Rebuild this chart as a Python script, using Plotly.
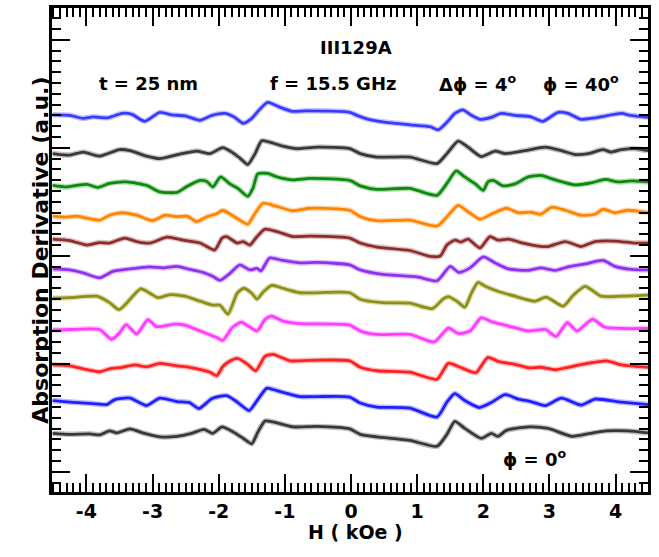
import plotly.graph_objects as go

# Field H (kOe) and absorption derivative (a.u., vertically offset) for each angle phi
h40 = [-4.51,-4.25,-4.05,-3.90,-3.68,-3.46,-3.31,-3.12,-2.89,-2.71,-2.51,-2.28,-2.10,-1.91,-1.77,-1.63,-1.50,-1.38,-1.26,-1.07,-0.89,-0.67,-0.02,0.09,0.24,0.48,0.89,1.20,1.32,1.45,1.57,1.69,1.82,1.95,2.12,2.27,2.48,2.72,2.90,3.13,3.28,3.48,3.69,4.09,4.22,4.49]
s40 = [37.95,37.9,37.6,37.75,37.65,38.1,38.0,37.3,38.2,37.95,37.85,37.4,37.9,38.1,37.75,37.1,37.6,38.5,39.2,38.7,38.3,38.35,38.2,37.9,37.55,37.25,36.95,36.75,36.45,37.2,38.1,38.45,37.9,37.5,37.7,38.1,37.9,37.75,37.3,38.2,38.1,37.5,37.65,38.1,37.9,37.7]

h36 = [-4.51,-4.25,-4.05,-3.80,-3.50,-3.34,-3.09,-2.89,-2.59,-2.33,-2.13,-1.94,-1.80,-1.68,-1.56,-1.45,-1.35,-1.23,-1.03,-0.82,-0.51,-0.02,0.14,0.39,0.89,1.30,1.45,1.62,1.77,1.97,2.18,2.33,2.63,2.94,3.18,3.39,3.59,3.81,3.93,4.09,4.30,4.49]
s36 = [34.05,33.9,34.2,33.8,34.45,34.35,33.8,33.55,34.0,34.3,34.05,34.65,34.2,33.6,32.95,34.05,35.35,35.2,34.8,34.55,34.7,34.55,34.05,33.7,33.7,33.05,34.05,35.3,34.7,33.75,34.3,34.05,34.35,34.7,34.35,33.95,34.05,34.45,34.2,34.45,34.55,34.35]

h32 = [-4.51,-4.30,-4.15,-3.99,-3.83,-3.65,-3.39,-3.09,-2.89,-2.63,-2.48,-2.28,-2.18,-2.09,-1.97,-1.83,-1.71,-1.56,-1.48,-1.41,-1.26,-1.12,-0.88,-0.62,-0.02,0.14,0.39,0.89,1.30,1.45,1.59,1.72,1.88,2.00,2.07,2.15,2.30,2.48,2.68,2.87,3.09,3.39,3.63,3.84,4.04,4.24,4.49]
s32 = [30.85,30.7,30.85,30.95,30.65,31.05,31.2,30.85,30.2,30.15,30.75,31.35,31.25,30.7,31.7,31.0,30.55,29.75,30.6,32.0,32.05,31.7,31.4,31.55,31.35,30.8,30.45,30.55,29.85,31.05,32.3,31.7,31.0,30.35,31.2,31.35,30.8,31.0,31.7,31.85,31.4,30.9,31.1,31.45,31.2,31.3,31.2]

h28 = [-4.51,-4.30,-4.15,-3.99,-3.80,-3.65,-3.45,-3.24,-3.00,-2.81,-2.63,-2.48,-2.33,-2.18,-2.03,-1.94,-1.80,-1.68,-1.56,-1.45,-1.33,-1.18,-0.88,-0.62,-0.02,0.14,0.39,0.89,1.30,1.45,1.62,1.77,1.95,2.12,2.35,2.53,2.72,2.87,3.03,3.24,3.48,3.69,3.81,3.99,4.19,4.49]
s28 = [27.75,27.65,27.75,27.55,27.35,27.85,28.1,27.85,27.3,27.85,27.7,27.75,27.2,27.7,28.0,28.35,27.85,27.35,26.95,28.05,29.05,28.85,28.3,28.55,28.35,27.7,27.3,27.35,26.75,27.7,28.85,28.2,27.45,27.95,28.55,28.1,28.15,27.95,28.65,28.35,27.85,27.95,28.45,28.1,28.35,28.1]

h24 = [-4.51,-4.25,-3.99,-3.80,-3.65,-3.42,-3.24,-3.04,-2.78,-2.54,-2.28,-2.06,-1.95,-1.88,-1.72,-1.63,-1.53,-1.42,-1.30,-1.12,-0.88,-0.62,-0.02,0.14,0.39,0.89,1.20,1.35,1.45,1.57,1.66,1.77,1.95,2.10,2.22,2.38,2.57,2.83,2.98,3.24,3.48,3.69,3.99,4.30,4.49]
s24 = [25.45,25.3,24.85,25.1,25.05,25.55,25.2,25.05,25.65,25.35,25.05,24.35,25.55,25.7,25.05,25.2,24.85,25.7,26.45,26.2,25.7,25.75,25.55,25.05,24.65,24.3,23.7,23.75,24.85,25.35,25.15,25.45,24.55,25.7,25.35,25.45,25.1,24.75,24.7,25.2,24.7,25.2,25.25,25.05,25.05]

h20 = [-4.51,-4.25,-4.05,-3.80,-3.60,-3.34,-3.04,-2.84,-2.63,-2.44,-2.24,-2.09,-1.98,-1.83,-1.68,-1.53,-1.42,-1.36,-1.23,-1.03,-0.77,-0.51,-0.02,0.14,0.48,1.00,1.30,1.50,1.63,1.80,2.00,2.18,2.38,2.68,2.87,3.09,3.28,3.54,3.81,3.99,4.24,4.49]
s20 = [22.45,22.35,22.05,21.55,22.2,22.45,22.65,22.55,22.7,22.4,22.1,21.7,21.3,22.0,22.85,22.35,22.5,22.25,23.55,23.3,23.05,23.1,22.85,22.35,21.9,21.65,21.25,22.7,22.1,22.55,23.65,23.05,22.45,22.3,22.55,22.3,22.65,22.95,23.3,22.7,22.4,22.35]

h16 = [-4.51,-4.25,-3.84,-3.65,-3.51,-3.42,-3.18,-3.04,-2.92,-2.74,-2.51,-2.28,-2.09,-1.98,-1.86,-1.72,-1.62,-1.50,-1.42,-1.33,-1.20,-1.03,-0.77,-0.02,0.14,0.48,0.89,1.23,1.39,1.47,1.60,1.72,1.82,1.92,2.03,2.22,2.48,2.78,2.95,3.21,3.36,3.54,3.78,4.09,4.49]
s16 = [19.5,19.55,19.7,19.05,18.35,18.8,20.45,20.0,19.55,19.85,19.7,19.2,18.8,18.8,17.9,20.0,20.5,20.0,19.4,20.1,20.8,20.5,20.05,20.05,19.4,19.05,19.0,18.45,19.4,19.65,19.2,18.6,20.0,21.1,20.7,20.2,19.7,19.2,19.6,18.7,19.8,20.7,19.7,19.7,19.8]

h12 = [-4.51,-4.25,-3.80,-3.62,-3.50,-3.40,-3.24,-3.07,-2.94,-2.66,-2.51,-2.28,-2.03,-1.94,-1.80,-1.66,-1.53,-1.42,-1.30,-1.20,-1.03,-0.77,-0.02,0.14,0.39,0.89,1.26,1.47,1.62,1.80,1.97,2.12,2.38,2.68,2.94,3.10,3.27,3.42,3.65,3.83,4.09,4.49]
s12 = [16.3,16.35,16.35,15.35,16.0,16.85,15.9,17.35,16.65,16.9,16.8,16.2,15.55,15.25,16.5,17.1,16.6,16.2,17.35,17.7,17.2,16.95,16.8,16.2,15.85,15.85,15.1,16.5,15.95,16.2,17.55,17.15,16.7,16.2,16.35,15.65,17.05,16.2,17.4,16.6,16.45,16.45]

h08 = [-4.51,-4.25,-4.05,-3.80,-3.65,-3.46,-3.27,-3.09,-2.89,-2.63,-2.44,-2.13,-2.03,-1.94,-1.85,-1.72,-1.57,-1.44,-1.30,-1.18,-0.92,-0.62,-0.02,0.14,0.39,0.89,1.30,1.47,1.65,1.89,1.97,2.07,2.22,2.48,2.68,2.87,3.09,3.28,3.54,3.86,4.09,4.49]
s08 = [12.8,12.7,12.4,12.1,12.4,12.55,12.8,12.6,12.95,12.7,12.55,12.05,11.7,12.6,13.1,13.45,12.9,12.2,13.65,13.85,13.2,13.25,13.2,12.55,12.2,12.05,11.35,12.95,12.55,12.0,12.7,13.55,13.15,12.85,12.5,12.55,12.3,12.55,12.9,13.2,12.8,12.55]

h04 = [-4.51,-4.25,-3.90,-3.69,-3.57,-3.34,-3.09,-2.89,-2.63,-2.44,-2.30,-2.10,-1.88,-1.72,-1.54,-1.42,-1.27,-1.12,-0.77,-0.51,-0.02,0.14,0.39,0.89,1.30,1.45,1.57,1.72,1.94,2.12,2.33,2.53,2.72,2.94,3.18,3.48,3.69,4.09,4.49]
s04 = [9.2,9.05,8.9,8.8,9.3,9.45,8.7,9.45,9.1,9.0,8.4,9.4,9.7,9.05,8.2,9.2,10.45,10.2,9.6,9.6,9.55,8.95,8.55,8.45,7.55,9.05,9.9,9.2,8.5,9.0,9.8,9.35,9.1,8.7,9.45,8.75,9.35,9.05,8.8]

h00 = [-4.51,-4.25,-3.95,-3.80,-3.65,-3.54,-3.34,-3.15,-2.89,-2.63,-2.41,-2.22,-2.09,-1.95,-1.77,-1.63,-1.50,-1.41,-1.30,-1.18,-0.88,-0.51,-0.02,0.14,0.39,0.89,1.30,1.45,1.57,1.72,1.97,2.12,2.22,2.35,2.68,2.98,3.34,3.62,3.86,4.19,4.49]
s00 = [5.9,5.8,5.85,5.75,6.15,5.95,6.35,5.95,5.55,5.6,5.9,6.3,5.9,6.55,6.0,5.4,4.85,6.0,7.15,7.05,6.55,6.6,6.35,5.8,5.55,5.2,4.6,5.8,7.1,6.4,5.4,5.9,5.6,6.2,6.55,6.4,5.6,5.9,6.15,6.15,5.95]

phis = [40, 36, 32, 28, 24, 20, 16, 12, 8, 4, 0]
fields = [h40, h36, h32, h28, h24, h20, h16, h12, h08, h04, h00]
signals = [s40, s36, s32, s28, s24, s20, s16, s12, s08, s04, s00]
colors = ["#3a3aff", "#383838", "#0c8a0c", "#ff8400", "#8e2c2c", "#9030f0",
          "#8f8f14", "#ff3cff", "#ff2020", "#2020ff", "#383838"]

x_tickvals = [-4, -3, -2, -1, 0, 1, 2, 3, 4]
x_ticktext = ["-4", "-3", "-2", "-1", "0", "1", "2", "3", "4"]

FONT = "DejaVu Sans"

fig = go.Figure()
for phi, h, s, c in zip(phis, fields, signals, colors):
    fig.add_trace(go.Scatter(x=h, y=s, mode="lines", name=f"phi={phi}",
                             line=dict(color=c, width=5.5, shape="spline", smoothing=0.6),
                             opacity=0.3, hoverinfo="skip", showlegend=False))
    fig.add_trace(go.Scatter(x=h, y=s, mode="lines", name=f"phi={phi}",
                             line=dict(color=c, width=2.8, shape="spline", smoothing=0.6),
                             showlegend=False))

axis_common = dict(showline=True, linewidth=3, linecolor="black", mirror="allticks",
                   ticks="inside", ticklen=18, tickwidth=2, tickcolor="black",
                   showgrid=False, zeroline=False)

fig.update_xaxes(range=[-4.52, 4.49], tickvals=x_tickvals, ticktext=x_ticktext,
                 tickfont=dict(family=FONT, size=19, color="black", weight="bold"),
                 minor=dict(dtick=0.1, tick0=0, ticklen=9, tickwidth=1.5, tickcolor="black",
                            ticks="inside"),
                 **axis_common)
fig.update_yaxes(range=[0, 48.7], tick0=2.03, dtick=10.87, showticklabels=False,
                 minor=dict(dtick=1.087, tick0=2.03, ticklen=9, tickwidth=2, tickcolor="black",
                            ticks="inside"),
                 **axis_common)

annots = [
    ("III129A", 0.08, 44.7),
    ("t = 25 nm", -3.06, 41.1),
    ("f = 15.5 GHz", -0.27, 41.1),
    ("Δϕ = 4<sup>o</sup>", 1.91, 41.2),
    ("ϕ = 40<sup>o</sup>", 3.48, 41.2),
    ("ϕ = 0<sup>o</sup>", 2.77, 3.4),
]
for text, ax, ay in annots:
    fig.add_annotation(x=ax, y=ay, xref="x", yref="y", text=text, showarrow=False,
                       font=dict(family=FONT, size=18, color="black", weight="bold"))

fig.add_annotation(x=-0.045, y=0.5, xref="paper", yref="paper",
                   text="Absorption Derivative (a.u.)", textangle=-90, showarrow=False,
                   font=dict(family=FONT, size=22, color="black", weight="bold"))
fig.add_annotation(x=0.51, y=-0.109, xref="paper", yref="paper",
                   text="H ( kOe )", showarrow=False,
                   font=dict(family=FONT, size=19, color="black", weight="bold"))

fig.update_layout(width=659, height=557, margin=dict(l=52, r=11, t=5, b=65),
                  plot_bgcolor="white", paper_bgcolor="white", showlegend=False)

fig.write_html("out.html")
